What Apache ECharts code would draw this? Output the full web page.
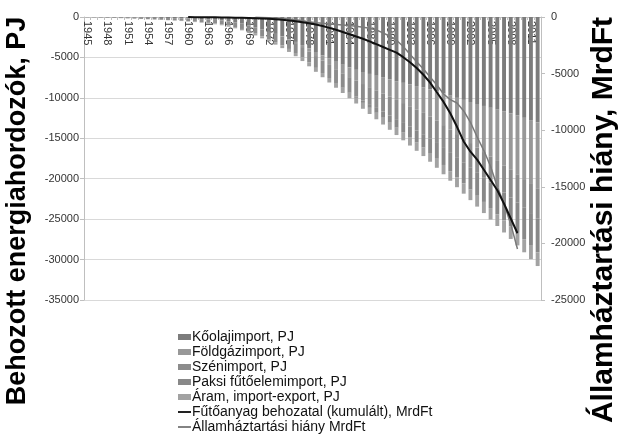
<!DOCTYPE html>
<html><head><meta charset="utf-8">
<script src="https://cdn.jsdelivr.net/npm/echarts@6/dist/echarts.min.js"></script>
<style>html,body{margin:0;padding:0;background:#fff}#c{width:622px;height:437px}</style>
</head><body><div id="c"></div>
<script>
const years = [];
for (let y = 1945; y <= 2012; y++) years.push(String(y));

// cumulative imports, PJ (negative = import), 1945..2012
const koolaj = [-5,-10,-15,-25,-35,-45,-55,-65,-75,-85,-95,-110,-125,-145,-165,-190,-220,-255,-295,-345,-410,-520,-650,-820,-1025,-1260,-1520,-1800,-2090,-2400,-2730,-3080,-3470,-3890,-4330,-4750,-5145,-5540,-5905,-6240,-6535,-6800,-7040,-7270,-7500,-7720,-7935,-8145,-8345,-8540,-8725,-8940,-9195,-9470,-9735,-10000,-10250,-10510,-10760,-11000,-11230,-11460,-11700,-11940,-12190,-12470,-12750,-13030];
const foldgaz = [0,0,0,0,0,0,0,0,0,0,0,0,0,0,0,0,0,0,0,0,0,0,0,0,0,0,0,0,-10,-30,-70,-150,-250,-370,-500,-640,-780,-920,-1060,-1200,-1340,-1490,-1640,-1800,-1960,-2130,-2310,-2500,-2700,-2910,-3130,-3370,-3620,-3900,-4190,-4480,-4780,-5080,-5390,-5700,-6020,-6340,-6650,-6960,-7260,-7580,-7900,-8220];
const szen = [-15,-30,-45,-60,-75,-95,-115,-135,-160,-185,-210,-230,-250,-275,-300,-325,-355,-390,-425,-460,-500,-550,-600,-660,-730,-800,-870,-940,-1010,-1080,-1150,-1220,-1300,-1380,-1460,-1540,-1620,-1700,-1780,-1860,-1940,-2020,-2095,-2170,-2245,-2320,-2390,-2455,-2520,-2580,-2640,-2700,-2760,-2820,-2880,-2940,-3000,-3060,-3120,-3180,-3240,-3300,-3360,-3420,-3480,-3540,-3600,-3660];
const paks = [0,0,0,0,0,0,0,0,0,0,0,0,0,0,0,0,0,0,0,0,0,0,0,0,0,0,0,0,0,0,0,0,0,0,0,0,0,0,-30,-90,-190,-310,-460,-610,-760,-910,-1060,-1210,-1360,-1510,-1660,-1810,-1960,-2110,-2260,-2410,-2560,-2700,-2840,-2990,-3140,-3290,-3440,-3590,-3740,-3890,-4040,-4190];
const aram = [0,0,0,0,0,0,0,0,-5,-10,-15,-20,-25,-30,-35,-45,-55,-65,-80,-95,-110,-130,-150,-170,-195,-220,-250,-280,-310,-340,-370,-400,-430,-460,-490,-520,-555,-590,-625,-660,-695,-730,-765,-800,-835,-870,-905,-940,-975,-1010,-1045,-1080,-1115,-1150,-1185,-1220,-1260,-1300,-1340,-1380,-1420,-1460,-1500,-1540,-1580,-1620,-1660,-1700];

// MrdFt, 1945..2012 (null = no data)
const futoanyag = [null,null,null,null,null,null,null,null,null,null,null,null,null,null,null,-10,-15,-20,-25,-30,-40,-50,-60,-75,-90,-110,-130,-160,-200,-250,-310,-380,-460,-550,-660,-800,-960,-1130,-1320,-1520,-1720,-1920,-2150,-2400,-2650,-2900,-3150,-3550,-4000,-4500,-5100,-5800,-6650,-7500,-8500,-9700,-11000,-11900,-12600,-13500,-14400,-15300,-16500,-17800,-19100,null,null,null];
const hiany = [null,null,null,null,null,null,null,null,null,null,null,null,null,null,null,null,null,null,null,null,null,null,null,null,null,-20,-40,-60,-90,-130,-180,-250,-330,-420,-500,-560,-610,-660,-710,-760,-820,-900,-1000,-1150,-1400,-1700,-2050,-2600,-3300,-3950,-4600,-5300,-6000,-6800,-7300,-7600,-8300,-9300,-10600,-11800,-13200,-15000,-16500,-18300,-20500,null,null,null];

const leftTicks = [0,-5000,-10000,-15000,-20000,-25000,-30000,-35000];
const rightTicks = [0,-5000,-10000,-15000,-20000,-25000];

const names = ['Kőolajimport, PJ','Földgázimport, PJ','Szénimport, PJ','Paksi fűtőelemimport, PJ','Áram, import-export, PJ','Fűtőanyag behozatal (kumulált), MrdFt','Államháztartási hiány MrdFt'];
const barData = [koolaj, foldgaz, szen, paks, aram];
const barColors = ['#7c7c7c','#989898','#8c8c8c','#888888','#a2a2a2'];
const FONT = 'Liberation Sans, Arial, sans-serif';

const chart = echarts.init(document.getElementById('c'));
const series = barData.map((d,i)=>({
  name: names[i], type:'bar', stack:'a', yAxisIndex:0, data:d,
  barWidth:'58%', itemStyle:{color:barColors[i]}
}));
series.push({name:names[5], type:'line', yAxisIndex:1, data:futoanyag, symbol:'none',
  lineStyle:{color:'#111', width:2}, itemStyle:{color:'#111'}, z:5});
series.push({name:names[6], type:'line', yAxisIndex:1, data:hiany, symbol:'none',
  lineStyle:{color:'#7a7a7a', width:1.5}, itemStyle:{color:'#7a7a7a'}, z:4});

const lineIcon = 'path://M0,0H14V2H0Z';
chart.setOption({
  animation:false,
  textStyle:{fontFamily:FONT},
  grid:{left:84, right:81, top:17, bottom:137, containLabel:false},
  legend:{
    orient:'vertical', left:178, top:330, padding:0, itemWidth:13, itemHeight:6, itemGap:1,
    textStyle:{fontSize:14, lineHeight:14, color:'#111', fontFamily:FONT, padding:[0,0,0,-4]},
    data:names.map((n,i)=> i<5 ? {name:n, icon:'rect'} : {name:n, icon:lineIcon})
  },
  xAxis:{
    type:'category', data:years, position:'top',
    axisLine:{onZero:false, lineStyle:{color:'#bfbfbf'}},
    axisTick:{show:true, inside:true, interval:0, length:3, lineStyle:{color:'#bfbfbf'}},
    axisLabel:{inside:true, interval:2, rotate:90, fontSize:11, color:'#333', margin:4, fontFamily:FONT}
  },
  yAxis:[{
    type:'value', position:'left', min:-35000, max:0, interval:5000,
    axisLine:{show:true, lineStyle:{color:'#bfbfbf'}},
    axisTick:{show:true, length:4, lineStyle:{color:'#bfbfbf'}},
    axisLabel:{fontSize:11, color:'#333', margin:5, fontFamily:FONT, formatter:v=>String(v)},
    splitLine:{show:true, lineStyle:{color:'#d9d9d9'}}
  },{
    type:'value', position:'right', min:-25000, max:0, interval:5000,
    axisLine:{show:true, lineStyle:{color:'#bfbfbf'}},
    axisTick:{show:true, length:4, lineStyle:{color:'#bfbfbf'}},
    axisLabel:{fontSize:11, color:'#333', margin:10, fontFamily:FONT, formatter:v=>String(v)},
    splitLine:{show:false}
  }],
  graphic:[
    {type:'text', x:18, y:211, rotation:Math.PI/2,
     style:{text:'Behozott energiahordozók, PJ', font:'bold 27px '+FONT, fill:'#000', align:'center', verticalAlign:'middle'}},
    {type:'text', x:604, y:220, rotation:Math.PI/2,
     style:{text:'Államháztartási hiány, MrdFt', font:'bold 30px '+FONT, fill:'#000', align:'center', verticalAlign:'middle'}}
  ],
  series:series
});
</script></body></html>
